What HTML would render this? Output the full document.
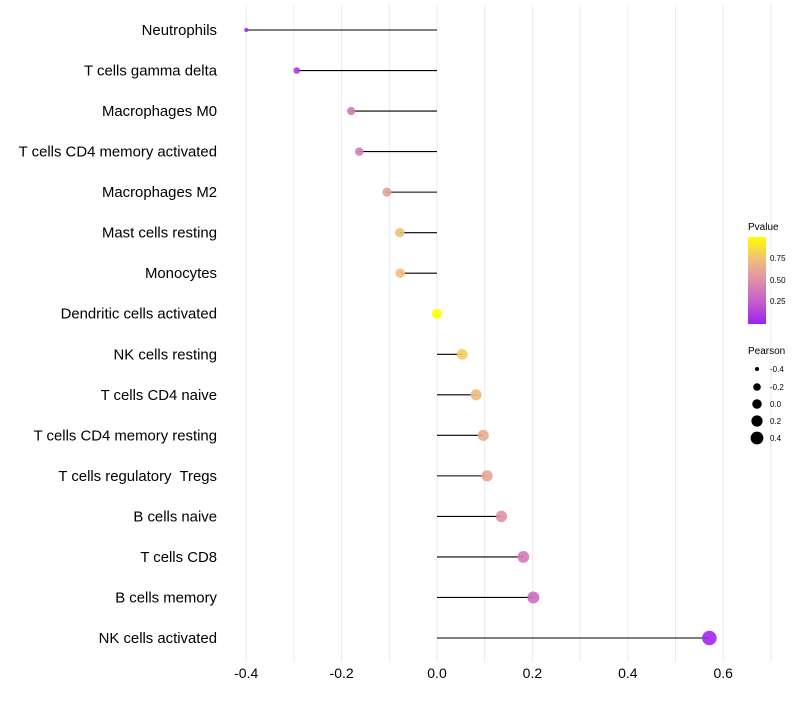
<!DOCTYPE html>
<html><head><meta charset="utf-8"><style>
body{margin:0;background:#fff;font-family:"Liberation Sans",sans-serif}
text{white-space:pre}
</style></head><body>
<svg id="chart" width="800" height="700" xmlns="http://www.w3.org/2000/svg">
<defs><linearGradient id="pg" x1="0" y1="1" x2="0" y2="0">
<stop offset="0" stop-color="#A020F0"/><stop offset="0.25" stop-color="#C45CCC"/><stop offset="0.5" stop-color="#DE8FA8"/><stop offset="0.75" stop-color="#F0C078"/><stop offset="1" stop-color="#FFFF00"/>
</linearGradient></defs>
<g id="grid"></g>
<g id="marks"></g>
<g id="labels"></g>
<g font-size="10">
<text x="748" y="230">Pvalue</text>
<rect x="748" y="237" width="18" height="87" fill="url(#pg)"/>
<text x="770" y="261" font-size="8">0.75</text>
<text x="770" y="283" font-size="8">0.50</text>
<text x="770" y="304" font-size="8">0.25</text>
</g>
<g font-size="8">
<text x="748" y="354" font-size="10">Pearson</text>
<circle cx="757" cy="369" r="2"/><text x="770" y="372">-0.4</text>
<circle cx="757" cy="387" r="3.8"/><text x="770" y="390">-0.2</text>
<circle cx="757" cy="404" r="4.8"/><text x="770" y="407">0.0</text>
<circle cx="757" cy="421" r="5.6"/><text x="770" y="424">0.2</text>
<circle cx="757" cy="438" r="6.4"/><text x="770" y="441">0.4</text>
</g>
</svg>
<script>
const categories=["Neutrophils","T cells gamma delta","Macrophages M0","T cells CD4 memory activated","Macrophages M2","Mast cells resting","Monocytes","Dendritic cells activated","NK cells resting","T cells CD4 naive","T cells CD4 memory resting","T cells regulatory  Tregs","B cells naive","T cells CD8","B cells memory","NK cells activated"];
const pearson=[-0.40,-0.294,-0.18,-0.163,-0.105,-0.078,-0.077,0.0,0.053,0.082,0.097,0.105,0.135,0.181,0.202,0.571];
const pvalues=[0.02,0.1,0.4,0.4,0.6,0.75,0.75,1.0,0.8,0.72,0.65,0.62,0.52,0.4,0.33,0.03];
const xTicks=[-0.4,-0.2,0.0,0.2,0.4,0.6];
const xGrid=[-0.4,-0.3,-0.2,-0.1,0,0.1,0.2,0.3,0.4,0.5,0.6,0.7];
const NS="http://www.w3.org/2000/svg";
const xs=v=>437+v*477;
const ys=i=>30+i*(608/15);
const rs=v=>1+Math.sqrt(1+Math.max(0,v+0.4)*40);
const stops=[[0,[160,32,240]],[0.25,[196,92,204]],[0.5,[222,143,168]],[0.75,[240,192,120]],[1,[255,255,0]]];
function col(p){for(let i=0;i<stops.length-1;i++){const a=stops[i],b=stops[i+1];if(p<=b[0]){const t=(p-a[0])/(b[0]-a[0]);return "rgb("+a[1].map((c,k)=>Math.round(c+(b[1][k]-c)*t)).join(",")+")";}}return "rgb(255,255,0)";}
function mk(tag,attrs,parent){const e=document.createElementNS(NS,tag);for(const k in attrs)e.setAttribute(k,attrs[k]);parent.appendChild(e);return e;}
const grid=document.getElementById('grid'),marks=document.getElementById('marks'),labels=document.getElementById('labels');
xGrid.forEach(v=>{const l=mk('line',{x1:xs(v),x2:xs(v),y1:5,y2:662,stroke:'#ebebeb','stroke-width':1},grid);

});
xTicks.forEach(v=>{const t=mk('text',{x:xs(v),y:678,'text-anchor':'middle','font-size':14,fill:'#000'},labels);t.textContent=v.toFixed(1);

});
categories.forEach((c,i)=>{const y=ys(i);
const t=mk('text',{x:217,y:y+5,'text-anchor':'end','font-size':14.9,fill:'#000'},labels);t.textContent=c;


const l=mk('line',{x1:xs(0),x2:xs(pearson[i]),y1:y,y2:y,stroke:'#000','stroke-width':1.1},marks);


const d=mk('circle',{cx:xs(pearson[i]),cy:y,r:rs(pearson[i]),fill:col(pvalues[i]),'fill-opacity':0.9},marks);


});
</script>
</body></html>
